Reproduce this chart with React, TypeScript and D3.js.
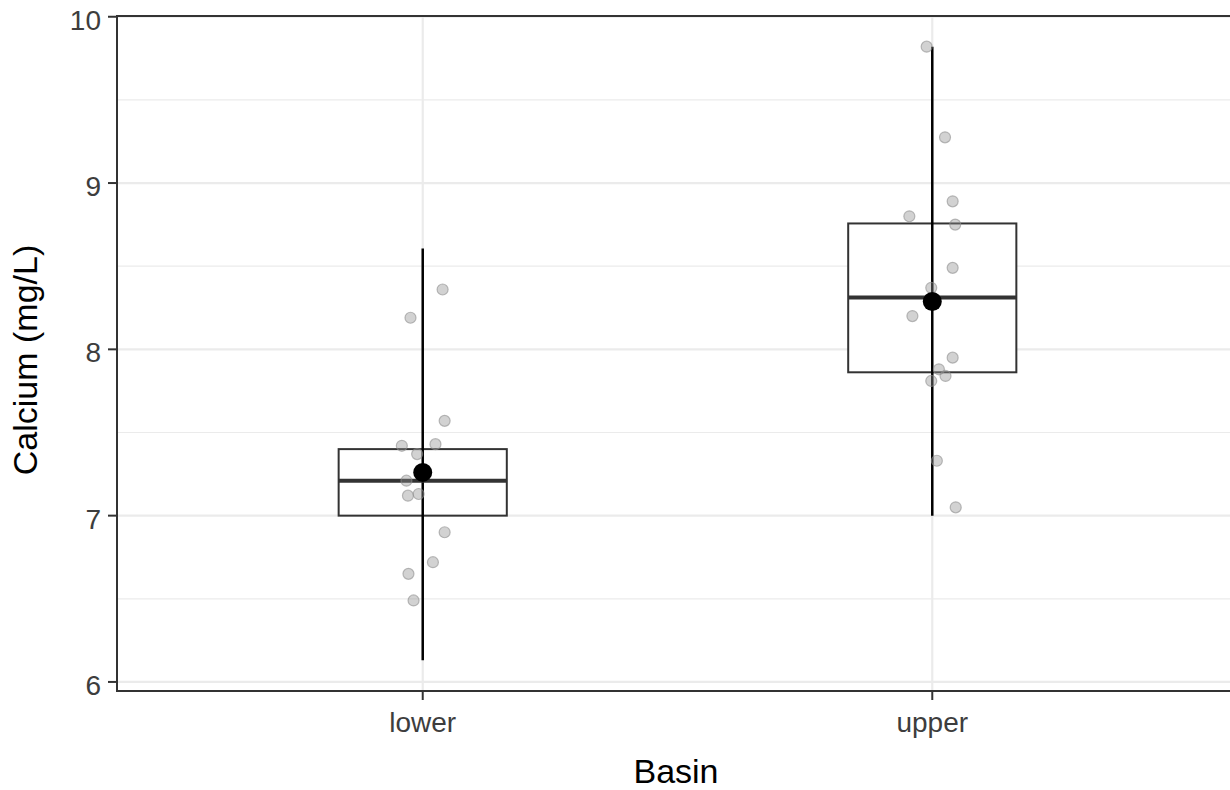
import React from "react";
import * as d3 from "d3";

const categories = ["lower", "upper"];

const lowerValues = [8.36, 8.19, 7.57, 7.42, 7.43, 7.37, 7.21, 7.12, 7.13, 6.9, 6.72, 6.65, 6.49];
const lowerJitter = [0.039, -0.024, 0.043, -0.041, 0.025, -0.011, -0.032, -0.029, -0.008, 0.043, 0.02, -0.028, -0.018];
const upperValues = [9.82, 9.275, 8.89, 8.8, 8.75, 8.49, 8.37, 8.2, 7.95, 7.88, 7.84, 7.81, 7.33, 7.05];
const upperJitter = [-0.011, 0.025, 0.04, -0.045, 0.045, 0.04, -0.002, -0.039, 0.04, 0.013, 0.026, -0.002, 0.009, 0.046];

const boxLow = [7.0, 7.862];
const boxMedian = [7.21, 8.312];
const boxHigh = [7.4, 8.757];
const whiskerLow = [6.13, 7.0];
const whiskerHigh = [8.607, 9.82];
const means = [7.26, 8.288];

const yTicks = [6, 7, 8, 9, 10];
const yMinorTicks = [6.5, 7.5, 8.5, 9.5];

const W = 1230;
const H = 790;
const panel = { left: 117, top: 16, right: 1238, bottom: 691 };
const FONT = "'Liberation Sans', Arial, sans-serif";

export default function App() {
  const allVals = [...lowerValues, ...upperValues, ...whiskerLow, ...whiskerHigh];
  const lo = d3.min(allVals) as number;
  const hi = d3.max(allVals) as number;
  const pad = (hi - lo) * 0.05;
  const y = d3.scaleLinear().domain([lo - pad, hi + pad]).range([panel.bottom, panel.top]);

  // discrete scale with 0.6 expansion on each side
  const x = d3
    .scaleLinear()
    .domain([1 - 0.6, categories.length + 0.6])
    .range([panel.left, panel.right]);

  const boxWidth = 0.33;
  const pointsByCat = [
    lowerValues.map((v, i) => ({ v, j: lowerJitter[i] })),
    upperValues.map((v, i) => ({ v, j: upperJitter[i] })),
  ];

  return (
    <svg
      width={W}
      height={H}
      style={{ position: "absolute", left: 0, top: 0, background: "#fff" }}
    >
      <rect x={0} y={0} width={W} height={H} fill="#fff" />
      {/* grid */}
      {yMinorTicks.map((t) => (
        <line key={"mn" + t} x1={panel.left} x2={panel.right} y1={y(t)} y2={y(t)} stroke="#EBEBEB" strokeWidth={1.2} />
      ))}
      {yTicks.map((t) => (
        <line key={"mj" + t} x1={panel.left} x2={panel.right} y1={y(t)} y2={y(t)} stroke="#EBEBEB" strokeWidth={2.2} />
      ))}
      {categories.map((c, i) => (
        <line key={"vg" + c} x1={x(i + 1)} x2={x(i + 1)} y1={panel.top} y2={panel.bottom} stroke="#EBEBEB" strokeWidth={2.2} />
      ))}

      {/* boxes */}
      {categories.map((c, i) => {
        const cx = x(i + 1);
        const x0 = x(i + 1 - boxWidth / 2);
        const x1 = x(i + 1 + boxWidth / 2);
        return (
          <g key={"box" + c}>
            <rect
              x={x0}
              y={y(boxHigh[i])}
              width={x1 - x0}
              height={y(boxLow[i]) - y(boxHigh[i])}
              fill="#fff"
              stroke="#333333"
              strokeWidth={2}
            />
            <line x1={cx} x2={cx} y1={y(whiskerLow[i])} y2={y(whiskerHigh[i])} stroke="#000" strokeWidth={2.5} />
            <line x1={x0} x2={x1} y1={y(boxMedian[i])} y2={y(boxMedian[i])} stroke="#333333" strokeWidth={4} />
          </g>
        );
      })}

      {/* jittered points */}
      {pointsByCat.map((pts, i) =>
        pts.map((p, k) => (
          <circle
            key={"p" + i + "-" + k}
            cx={x(i + 1 + p.j)}
            cy={y(p.v)}
            r={5.5}
            fill="#8f8f8f"
            fillOpacity={0.4}
            stroke="#8f8f8f"
            strokeOpacity={0.6}
            strokeWidth={1.2}
          />
        ))
      )}

      {/* means */}
      {categories.map((c, i) => (
        <circle key={"m" + c} cx={x(i + 1)} cy={y(means[i])} r={9.5} fill="#000" />
      ))}

      {/* panel border */}
      <rect
        x={panel.left}
        y={panel.top}
        width={panel.right - panel.left}
        height={panel.bottom - panel.top}
        fill="none"
        stroke="#333333"
        strokeWidth={2}
      />

      {/* y axis ticks & labels */}
      {yTicks.map((t) => (
        <g key={"yt" + t}>
          <line x1={panel.left - 9} x2={panel.left} y1={y(t)} y2={y(t)} stroke="#333333" strokeWidth={2} />
          <text x={101} y={y(t) + 13} textAnchor="end" fontFamily={FONT} fontSize={28} fill="#3d3d3d">
            {t}
          </text>
        </g>
      ))}

      {/* x axis ticks & labels */}
      {categories.map((c, i) => (
        <g key={"xt" + c}>
          <line x1={x(i + 1)} x2={x(i + 1)} y1={panel.bottom} y2={panel.bottom + 9} stroke="#333333" strokeWidth={2} />
          <text x={x(i + 1)} y={732} textAnchor="middle" fontFamily={FONT} fontSize={28} fill="#3d3d3d">
            {c}
          </text>
        </g>
      ))}

      {/* axis titles */}
      <text x={676} y={783} textAnchor="middle" fontFamily={FONT} fontSize={34} fill="#000">
        Basin
      </text>
      <text
        transform={`translate(37, 360) rotate(-90)`}
        textAnchor="middle"
        fontFamily={FONT}
        fontSize={34}
        fill="#000"
      >
        Calcium (mg/L)
      </text>
    </svg>
  );
}
